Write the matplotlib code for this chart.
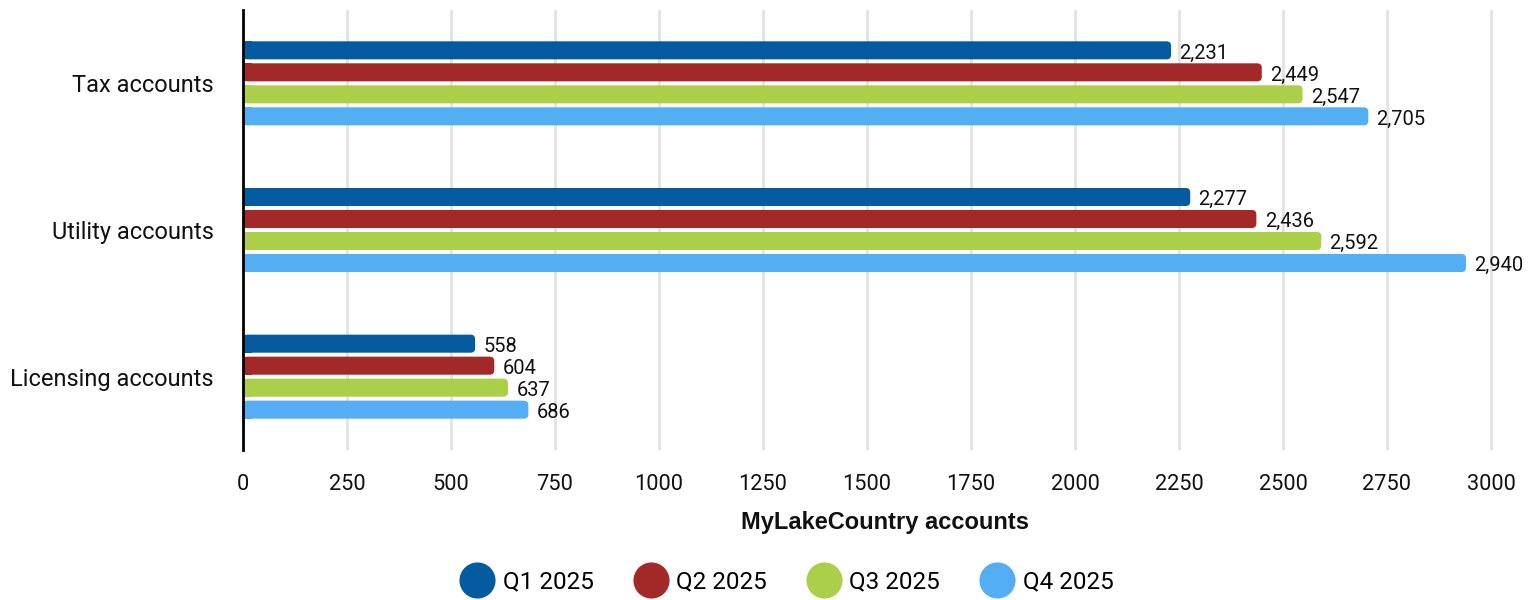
import matplotlib
matplotlib.use("Agg")
import matplotlib.pyplot as plt
from matplotlib.patches import FancyBboxPatch, Rectangle
from matplotlib.lines import Line2D
import numpy as np

plt.rcParams['font.family'] = ['Roboto', 'DejaVu Sans']

categories = ["Tax accounts", "Utility accounts", "Licensing accounts"]
series_names = ["Q1 2025", "Q2 2025", "Q3 2025", "Q4 2025"]
q1 = [2231, 2277, 558]
q2 = [2449, 2436, 604]
q3 = [2547, 2592, 637]
q4 = [2705, 2940, 686]
series_values = [q1, q2, q3, q4]
colors = ["#055BA0", "#A32828", "#ABCF48", "#53AEF3"]
xticks = [0, 250, 500, 750, 1000, 1250, 1500, 1750, 2000, 2250, 2500, 2750, 3000]

W, H = 1538, 600
fig = plt.figure(figsize=(W / 100, H / 100), dpi=100)
left_px, right_px, tick3000_px = 243, 1527, 1491
ax = fig.add_axes([left_px / W, 1 - 450 / H, (right_px - left_px) / W, 440 / H])

px_x = (tick3000_px - left_px) / 3000
xmax = (right_px - left_px) / px_x
ax.set_xlim(0, xmax)
ax.set_ylim(2.5, -0.5)

step = 0.15
bh = 0.123
px_y = 440 / 3.0
r_px = 4.5
rx = r_px / px_x
ry = r_px / px_y

for i, (vals, col) in enumerate(zip(series_values, colors)):
    off = (i - 1.5) * step
    for j, v in enumerate(vals):
        y = j + off
        p = FancyBboxPatch((0, y - bh / 2), v, bh,
                           boxstyle=f"round,pad=0,rounding_size={rx}",
                           mutation_aspect=ry / rx,
                           facecolor=col, edgecolor='none', zorder=3)
        ax.add_patch(p)
        ax.add_patch(Rectangle((0, y - bh / 2), rx * 2, bh, facecolor=col,
                               edgecolor='none', zorder=3))
        ax.annotate(f"{v:,}", (v, y), xytext=(6, -2), textcoords='offset points',
                    va='center', ha='left', fontsize=14.5, color='#111111',
                    clip_on=False, zorder=4)

ax.set_xticks(xticks)
ax.set_xticklabels([str(t) for t in xticks], fontsize=15.7, color='#111111')
ax.set_yticks(range(len(categories)))
ax.set_yticklabels(categories, fontsize=17, color='#111111')
ax.tick_params(axis='both', length=0)
ax.tick_params(axis='x', pad=17)
ax.tick_params(axis='y', pad=21)
ax.grid(axis='x', color='#E2E2E2', linewidth=2, zorder=0)
ax.set_axisbelow(True)
for s in ['top', 'right', 'bottom']:
    ax.spines[s].set_visible(False)
ax.spines['left'].set_linewidth(2)
ax.spines['left'].set_color('black')
ax.spines['left'].set_zorder(5)

ax.set_xlabel("MyLakeCountry accounts", fontsize=17, fontweight='bold',
              family=['Liberation Sans', 'DejaVu Sans'],
              labelpad=12, color='#111111')

handles = [Line2D([0], [0], marker='o', linestyle='none', markersize=26,
                  markerfacecolor=c, markeredgecolor='none') for c in colors]
fig.legend(handles, series_names, loc='center', bbox_to_anchor=(788 / W, 1 - 582 / H),
           ncol=4, frameon=False, fontsize=17.5, handletextpad=0.45, columnspacing=1.75,
           handlelength=1.2)

fig.savefig("out.png", dpi=100)
